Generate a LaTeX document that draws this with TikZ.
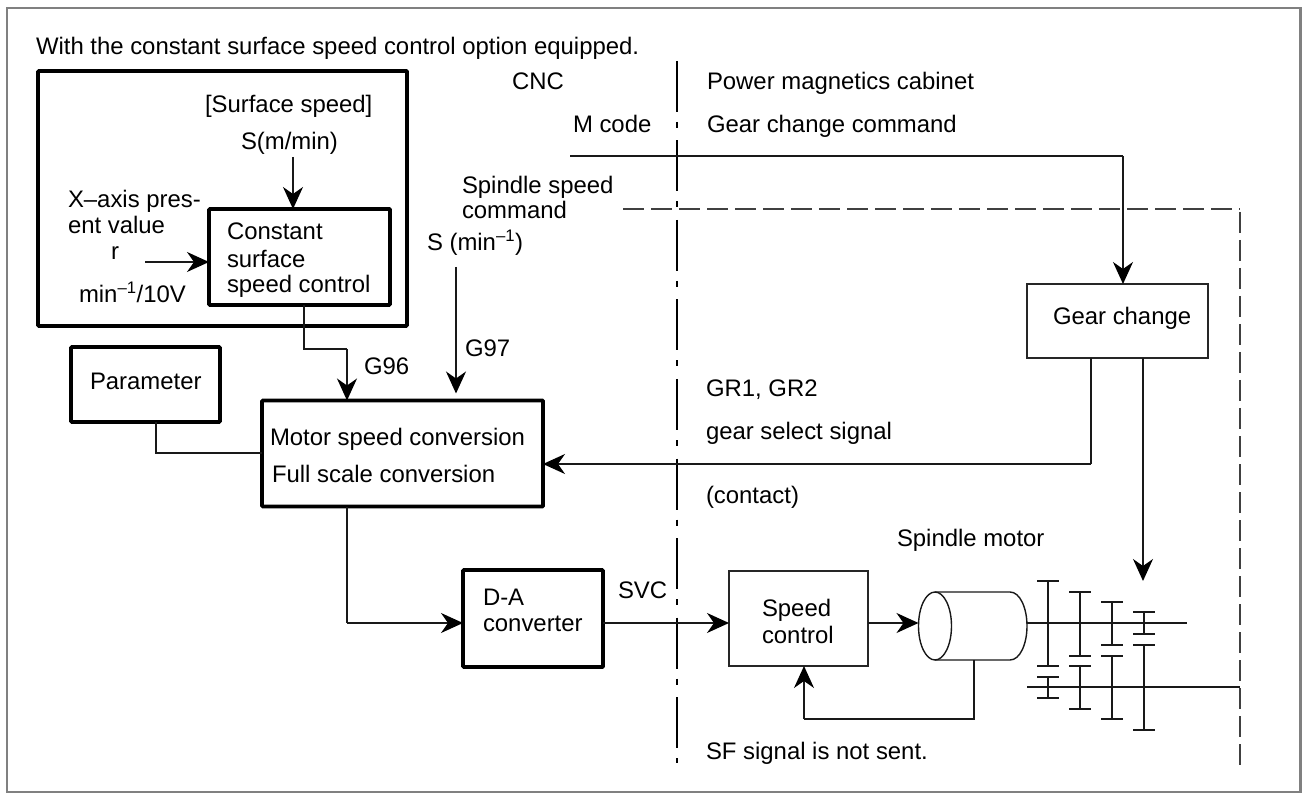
\documentclass[tikz,border=0pt]{standalone}
\usepackage{fontspec}
\setmainfont{Liberation Sans}
\usetikzlibrary{arrows.meta}
\tikzset{
  lbl/.style={anchor=base west,inner sep=0pt,outer sep=0pt,font=\fontsize{23.9}{28}\selectfont},
  thinbox/.style={draw=black!85,line width=1.4pt,inner sep=0pt,outer sep=0pt},
  thickbox/.style={draw=black,line width=3.6pt,inner sep=0pt,outer sep=0pt,rounded corners=0.8pt},
  conn/.style={draw=black!90,line width=1.4pt},
  arr/.style={conn,-{Stealth[length=22pt,width=20pt,inset=7pt,fill=black,color=black]}},
  dashln/.style={draw=black!75,line width=1.4pt,dash pattern=on 21pt off 7pt},
  dashdot/.style={draw=black,line width=1.4pt,dash pattern=on 51pt off 10pt on 6pt off 12.5pt},
}
\begin{document}
\begin{tikzpicture}[x=1pt,y=-1pt]
\useasboundingbox (0,0) rectangle (1302,794);
\draw[draw=black!50,line width=2.6pt] (7,8) rectangle (1300.5,792);

% boxes
\node[thickbox,minimum width=369pt,minimum height=255pt] (outer) at (222.5,198.5) {};
\node[thickbox,minimum width=181pt,minimum height=96pt] (csc) at (299.5,257) {};
\node[thickbox,minimum width=149pt,minimum height=75pt] (param) at (145.5,384.5) {};
\node[thickbox,minimum width=281pt,minimum height=106pt] (motor) at (402.5,453.5) {};
\node[thickbox,minimum width=140pt,minimum height=97pt] (da) at (533,618.5) {};
\node[thinbox,minimum width=139pt,minimum height=95pt] (speed) at (798.5,618.5) {};
\node[thinbox,minimum width=181pt,minimum height=74pt] (gear) at (1117.5,321) {};

% text
\node[lbl] (t1) at (36,55) {With the constant surface speed control option equipped.};
\node[lbl] (t2) at (512,90) {CNC};
\node[lbl] (t3) at (707,90) {Power magnetics cabinet};
\node[lbl] (t4) at (573,133) {M code};
\node[lbl] (t5) at (707,133) {Gear change command};
\node[lbl] (t6) at (462,194) {Spindle speed};
\node[lbl] (t7) at (462,219) {command};
\node[lbl] (t8) at (427,251) {S (min\textsuperscript{–1})};
\node[lbl] (t9) at (205,113) {[Surface speed]};
\node[lbl] (t10) at (241,150) {S(m/min)};
\node[lbl] (t11) at (68,208) {X–axis pres-};
\node[lbl] (t12) at (68,234) {ent value};
\node[lbl] (t13) at (111,260) {r};
\node[lbl] (t14) at (79,303) {min\textsuperscript{–1}/10V};
\node[lbl] (t15) at (227,240) {Constant};
\node[lbl] (t16) at (227,268) {surface};
\node[lbl] (t17) at (227,293) {speed control};
\node[lbl] (t18) at (364,375) {G96};
\node[lbl] (t19) at (465,357) {G97};
\node[lbl] (t20) at (90,390) {Parameter};
\node[lbl] (t21) at (270,445) {Motor speed conversion};
\node[lbl] (t22) at (272,482) {Full scale conversion};
\node[lbl] (t23) at (706,397) {GR1, GR2};
\node[lbl] (t24) at (706,439) {gear select signal};
\node[lbl] (t25) at (706,503) {(contact)};
\node[lbl] (t26) at (897,546) {Spindle motor};
\node[lbl] (t27) at (483,605) {D-A};
\node[lbl] (t28) at (483,631) {converter};
\node[lbl] (t29) at (618,598) {SVC};
\node[lbl] (t30) at (762,616) {Speed};
\node[lbl] (t31) at (762,643) {control};
\node[lbl] (t32) at (1053,325) {Gear change};
\node[lbl] (t33) at (706,759) {SF signal is not sent.};

% free end points
\coordinate (sFrom) at (293,157);
\coordinate (rFrom) at (145,262);
\coordinate (g96a) at (304,349);
\coordinate (g96b) at (347,349);
\coordinate (g97From) at (456,267);
\coordinate (parBend) at (156,453);
\coordinate (daBend) at (347,623);
\coordinate (mFrom) at (570,156);
\coordinate (mTo) at (1123,156);
\coordinate (grBend) at (1091,464);
\coordinate (grRight) at (1143,358);
\coordinate (grTip) at (1143,581);
\coordinate (dashA) at (623,209);
\coordinate (dashB) at (1240,209);
\coordinate (dashC) at (1240,768);
\coordinate (divTop) at (677,61);
\coordinate (divBot) at (677,763);

% connectors
\draw[dashdot] (divTop) -- (divBot);
\draw[dashln] (dashA) -- (dashB);
\draw[dashln] ([yshift=-3pt]dashB) -- (dashC);
\draw[arr] (sFrom) -- (sFrom |- csc.north);
\draw[arr] (rFrom) -- (rFrom -| csc.west);
\draw[conn] (g96a |- csc.south) -- (g96a) -- (g96b);
\draw[arr] (g96b) -- (g96b |- motor.north);
\draw[arr] (g97From) -- ([yshift=7pt]g97From |- motor.north);
\draw[conn] (parBend |- param.south) -- (parBend) -- (parBend -| motor.west);
\draw[conn] (daBend |- motor.south) -- (daBend);
\draw[arr] (daBend) -- (daBend -| da.west);
\draw[conn] (mFrom) -- (mTo);
\draw[arr] (mTo) -- (mTo |- gear.north);
\draw[conn] (grBend |- gear.south) -- (grBend);
\draw[arr] (grBend) -- (grBend -| motor.east);
\draw[arr] (grRight) -- (grTip);

% speed chain
\coordinate (svc) at (603,623);
\draw[arr] (da.east |- svc) -- (speed.west |- svc);

% motor cylinder
\coordinate (cylC) at (935,626);
\draw[conn] (cylC) ellipse [x radius=16.5pt,y radius=34pt];
\draw[conn] (935,592) -- (1010,592) .. controls (1020,592) and (1027,608) .. (1027,626) .. controls (1027,644) and (1020,660) .. (1010,660) -- (935,660);
\coordinate (cylW) at (918.5,623);
\draw[arr] (speed.east |- cylW) -- (cylW);

% feedback
\coordinate (fbA) at (974,660);
\coordinate (fbB) at (974,719);
\coordinate (fbC) at (804,719);
\draw[conn] (fbA) -- (fbB) -- (fbC);
\draw[arr] (fbC) -- (fbC |- speed.south);

% shafts
\draw[conn] (1027,623) -- (1187,623);
\draw[conn] (1027,687) -- (1240,687);
% gears: stems
\draw[conn] (1048,581) -- (1048,666);
\draw[conn] (1048,677) -- (1048,698);
\draw[conn] (1080,592) -- (1080,656);
\draw[conn] (1080,666) -- (1080,709);
\draw[conn] (1112,602) -- (1112,645);
\draw[conn] (1112,656) -- (1112,719);
\draw[conn] (1144,612) -- (1144,634);
\draw[conn] (1144,645) -- (1144,730);
% gears: bars
\foreach \x/\y in {1048/581,1048/666,1048/677,1048/698,1080/592,1080/656,1080/666,1080/709,1112/602,1112/645,1112/656,1112/719,1144/612,1144/634,1144/645,1144/730}
  \draw[conn] (\x-11,\y) -- (\x+11,\y);
\end{tikzpicture}
\end{document}
